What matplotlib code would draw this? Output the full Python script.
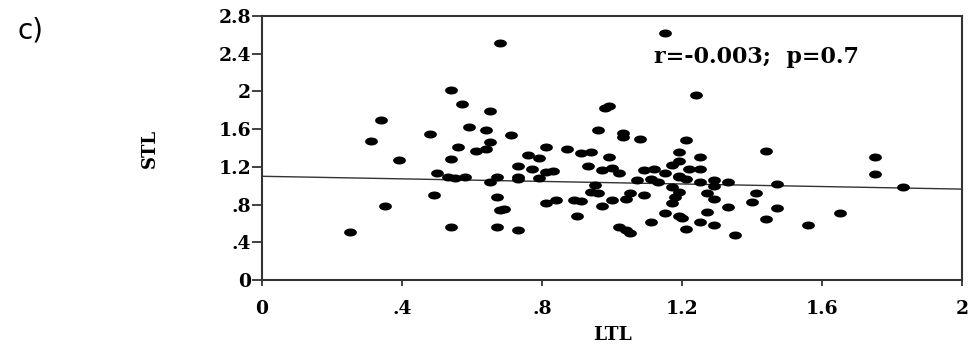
import numpy as np
import matplotlib
matplotlib.use("Agg")
import matplotlib.pyplot as plt
from matplotlib.path import Path

# ---- data ----
ltl = [0.25, 0.31, 0.34, 0.35, 0.39, 0.48, 0.49, 0.50, 0.54, 0.57,
       0.65, 0.59, 0.64, 0.65, 0.61, 0.64, 0.56, 0.54, 0.53, 0.55,
       0.58, 0.65, 0.67, 0.67, 0.68, 0.69, 0.54, 0.67, 0.68, 0.71,
       0.73, 0.73, 0.73, 0.76, 0.79, 0.77, 0.81, 0.83, 0.81, 0.87,
       0.91, 0.94, 0.93, 0.81, 0.84, 0.89, 0.91, 0.90, 0.95, 0.94,
       0.96, 0.98, 0.99, 1.03, 1.03, 1.08, 1.15, 1.24, 0.99, 0.97,
       1.00, 1.02, 1.09, 1.12, 1.15, 1.19, 1.07, 1.11, 1.13, 0.96,
       1.05, 1.09, 1.00, 1.04, 0.97, 1.17, 1.19, 1.18, 1.17, 1.15,
       1.19, 1.20, 1.11, 1.02, 1.04, 1.05, 1.21, 1.19, 1.19, 1.17,
       1.25, 1.22, 1.25, 1.19, 1.21, 1.25, 1.29, 1.33, 1.29, 1.27,
       1.29, 1.33, 1.41, 1.40, 1.27, 1.25, 1.29, 1.21, 1.35, 1.44,
       1.75, 1.75, 1.83, 1.47, 1.65, 1.56, 1.47, 1.44, 0.73, 0.79]
stl = [0.51, 1.47, 1.70, 0.78, 1.27, 1.55, 0.90, 1.13, 2.01, 1.87,
       1.79, 1.62, 1.59, 1.46, 1.37, 1.39, 1.41, 1.28, 1.09, 1.08,
       1.09, 1.04, 1.09, 0.88, 0.74, 0.75, 0.56, 0.56, 2.51, 1.54,
       1.21, 1.09, 0.53, 1.33, 1.29, 1.18, 1.15, 1.16, 1.41, 1.39,
       1.35, 1.36, 1.21, 0.82, 0.85, 0.85, 0.84, 0.68, 1.01, 0.93,
       1.59, 1.82, 1.85, 1.56, 1.52, 1.50, 2.62, 1.96, 1.30, 1.17,
       1.19, 1.13, 1.17, 1.18, 1.13, 1.10, 1.06, 1.07, 1.04, 0.92,
       0.92, 0.90, 0.85, 0.86, 0.79, 0.99, 0.93, 0.88, 0.82, 0.71,
       0.68, 0.66, 0.62, 0.56, 0.53, 0.50, 1.48, 1.36, 1.26, 1.22,
       1.30, 1.18, 1.18, 1.09, 1.07, 1.04, 1.06, 1.04, 1.00, 0.92,
       0.86, 0.77, 0.92, 0.83, 0.72, 0.62, 0.58, 0.54, 0.48, 1.37,
       1.30, 1.12, 0.99, 1.02, 0.71, 0.58, 0.76, 0.65, 1.07, 1.08]

fit_intercept = 1.10
fit_slope = -0.068
fit_x = [0.0, 2.0]

x_ticks = [0, 0.4, 0.8, 1.2, 1.6, 2.0]
x_ticklabels = ['0', '.4', '.8', '1.2', '1.6', '2']
y_ticks = [0, 0.4, 0.8, 1.2, 1.6, 2.0, 2.4, 2.8]
y_ticklabels = ['0', '.4', '.8', '1.2', '1.6', '2', '2.4', '2.8']

annotation = 'r=-0.003;  p=0.7'
panel_label = 'c)'

# ---- figure ----
W, H = 972, 344
fig = plt.figure(figsize=(W / 100, H / 100), dpi=100)
ax = fig.add_axes([262 / W, 1 - 280 / H, 700 / W, 264 / H])

# horizontally stretched ellipse marker (the reference image is stretched)
t = np.linspace(0, 2 * np.pi, 48)
ell = Path(np.column_stack([1.6 * np.cos(t), np.sin(t)]), closed=True)
ax.scatter(ltl, stl, marker=ell, s=9.2 ** 2, color='black', linewidths=0, zorder=3)

fit_y = [fit_intercept + fit_slope * v for v in fit_x]
ax.plot(fit_x, fit_y, color='#333333', lw=1.0, zorder=2)

ax.set_xlim(0, 2)
ax.set_ylim(0, 2.8)

tick_font = dict(family='DejaVu Serif', weight='bold', size=13.5)
ax.set_xticks(x_ticks)
ax.set_xticklabels(x_ticklabels, fontdict=tick_font)
ax.set_yticks(y_ticks)
ax.set_yticklabels(y_ticklabels, fontdict=tick_font)
ax.tick_params(axis='x', length=4.5, width=1.3, pad=10, color='#333333')
ax.tick_params(axis='y', length=7, width=1.3, pad=1, color='#333333')

for sp in ax.spines.values():
    sp.set_color('#333333')
    sp.set_linewidth(1.5)

ax.set_xlabel('LTL', family='DejaVu Serif', weight='bold', size=13.5)
ax.xaxis.set_label_coords(0.5, -0.210)
ax.xaxis.label.set_va('center')
ax.set_ylabel('STL', family='DejaVu Serif', weight='bold', size=13)
ax.yaxis.set_label_coords(-0.16, 0.5)
ax.yaxis.label.set_va('center')

ax.text(1.12, 2.36, annotation, family='DejaVu Serif', weight='bold', size=16,
        ha='left', va='center')

fig.text(17 / W, 1 - 16 / H, panel_label, family='DejaVu Sans', size=20,
         ha='left', va='top')

fig.savefig('out.png', dpi=100)
